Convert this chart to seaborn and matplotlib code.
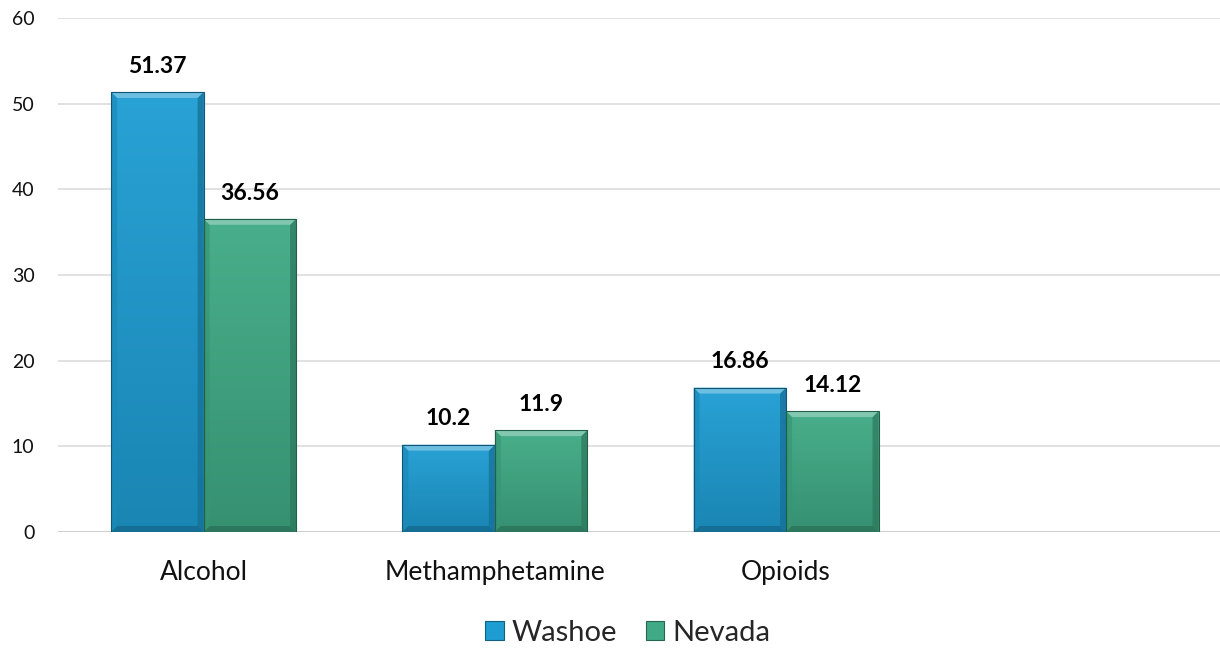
import numpy as np
import pandas as pd
import matplotlib
matplotlib.use("Agg")
import matplotlib.pyplot as plt
from matplotlib.patches import Polygon, Patch
import matplotlib.colors as mcolors
import seaborn as sns

categories = ["Alcohol", "Methamphetamine", "Opioids"]
washoe = [51.37, 10.2, 16.86]
nevada = [36.56, 11.9, 14.12]
series = ["Washoe", "Nevada"]
y_ticks = [0, 10, 20, 30, 40, 50, 60]

colors = {"Washoe": "#1e9dd3", "Nevada": "#3faa85"}

df = pd.DataFrame({
    "category": categories * 2,
    "series": ["Washoe"] * len(categories) + ["Nevada"] * len(categories),
    "value": washoe + nevada,
})

sns.set_theme(style="white")
plt.rcParams["font.family"] = ["Lato", "DejaVu Sans"]

fig = plt.figure(figsize=(12.2, 6.5), dpi=100)
ax = fig.add_axes([58 / 1220, 1 - 532 / 650, 1162 / 1220, 514 / 650])

sns.barplot(data=df, x="category", y="value", hue="series", order=categories,
            hue_order=series, palette=colors, width=0.635, ax=ax, legend=False,
            edgecolor="none", linewidth=0, saturation=1)

XLIM = (-0.5, 3.49)
ax.set_xlim(*XLIM)
ax.set_ylim(0, 60)
ax.set_yticks(y_ticks)
ax.set_yticklabels([str(t) for t in y_ticks], fontsize=14, color="#111111")
ax.tick_params(axis="x", labelsize=19, colors="#111111", pad=20, length=0)
ax.tick_params(axis="y", pad=17, length=0)
ax.set_xlabel("")
ax.set_ylabel("")
for s in ax.spines.values():
    s.set_visible(False)
ax.yaxis.grid(True, color="#dcdcdc", linewidth=1.2)
ax.set_axisbelow(True)
ax.axhline(0, color="#d0d0d0", linewidth=1.5, zorder=1)

fig.canvas.draw()
# pixel -> data scale for bevel sizes
inv = ax.transData.inverted()
p0 = inv.transform((0, 0))
p1 = inv.transform((6, 6))
bx, by = p1[0] - p0[0], p1[1] - p0[1]


def shade(c, f):
    r, g, b = mcolors.to_rgb(c)
    if f >= 0:
        return (r + (1 - r) * f, g + (1 - g) * f, b + (1 - b) * f)
    return (r * (1 + f), g * (1 + f), b * (1 + f))


for patch in list(ax.patches):
    x, y = patch.get_x(), patch.get_y()
    w, h = patch.get_width(), patch.get_height()
    if h <= 0:
        continue
    base = patch.get_facecolor()[:3]
    top_c = np.array(shade(base, 0.05))
    bot_c = np.array(shade(base, -0.15))
    grad = np.linspace(0, 1, 256)[:, None, None]
    img = top_c * (1 - grad) + bot_c * grad
    im = ax.imshow(img, extent=(x, x + w, y, y + h), origin="upper",
                   aspect="auto", zorder=2, interpolation="bilinear")
    im.set_clip_path(patch)
    # bevel faces
    top = Polygon([(x, y + h), (x + w, y + h), (x + w - bx, y + h - by), (x + bx, y + h - by)],
                  closed=True, facecolor=shade(base, 0.35), edgecolor="none", zorder=3)
    left = Polygon([(x, y), (x, y + h), (x + bx, y + h - by), (x + bx, y + by)],
                   closed=True, facecolor=shade(base, -0.12), edgecolor="none", zorder=3, alpha=0.7)
    right = Polygon([(x + w, y), (x + w, y + h), (x + w - bx, y + h - by), (x + w - bx, y + by)],
                    closed=True, facecolor=shade(base, -0.3), edgecolor="none", zorder=3, alpha=0.7)
    bottom = Polygon([(x, y), (x + w, y), (x + w - bx, y + by), (x + bx, y + by)],
                     closed=True, facecolor=shade(base, -0.35), edgecolor="none", zorder=3, alpha=0.7)
    for poly in (left, right, bottom, top):
        ax.add_patch(poly)
    ax.add_patch(plt.Rectangle((x, y), w, h, fill=False, edgecolor=shade(base, -0.45),
                               linewidth=0.8, zorder=4))

ax.set_xlim(*XLIM)
ax.set_ylim(0, 60)

# value labels
for cont in ax.containers:
    ax.bar_label(cont, labels=[f"{v:g}" for v in cont.datavalues], padding=11,
                 fontsize=16.5, fontweight="bold", color="#000000")

handles = [Patch(facecolor=colors[s], edgecolor=shade(colors[s], -0.4), linewidth=0.8, label=s)
           for s in series]
fig.legend(handles=handles, loc="center", bbox_to_anchor=(628 / 1220, 1 - 633 / 650), ncol=2,
           frameon=False, fontsize=21, handlelength=0.62, handleheight=0.62,
           handletextpad=0.28, columnspacing=1.0)

fig.savefig("out.png", dpi=100)
